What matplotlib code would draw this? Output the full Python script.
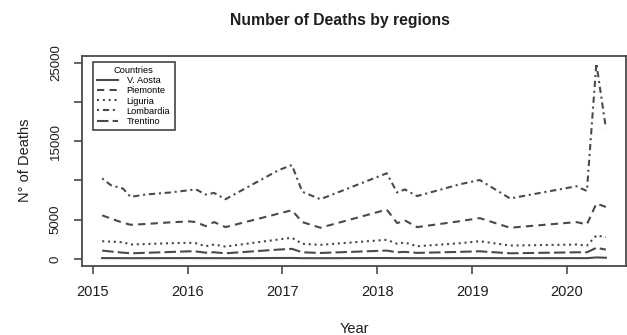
import matplotlib
matplotlib.use("Agg")
import matplotlib.pyplot as plt

plt.rcParams['font.family'] = ['Liberation Sans', 'DejaVu Sans']

# observation times (decimal years)
time = [2015.10, 2015.19, 2015.32, 2015.40, 2015.56, 2015.81, 2016.02, 2016.09,
        2016.19, 2016.28, 2016.40, 2016.96, 2017.10, 2017.21, 2017.40, 2018.10,
        2018.21, 2018.29, 2018.42, 2018.87, 2019.08, 2019.40, 2020.10, 2020.21,
        2020.31, 2020.41]

v_aosta = [110, 105, 100, 95, 100, 105, 110, 108, 100, 102, 95, 120, 125, 100,
           95, 120, 100, 105, 95, 105, 110, 95, 105, 100, 190, 150]
piemonte = [5550, 5150, 4600, 4350, 4450, 4650, 4780, 4690, 4180, 4690, 4050, 5770,
            6200, 4690, 3970, 6280, 4560, 4910, 4050, 4800, 5200, 3970, 4690, 4400,
            7050, 6620]
liguria = [2256, 2200, 2128, 1833, 1900, 2000, 2051, 2000, 1615, 1833, 1577, 2474,
           2692, 1923, 1795, 2436, 1923, 2090, 1615, 2000, 2256, 1705, 1833, 1705,
           2987, 2769]
lombardia = [10250, 9400, 8950, 7900, 8200, 8450, 8750, 8850, 8200, 8400, 7600, 11300,
             11950, 8550, 7600, 10900, 8450, 8850, 8000, 9500, 10050, 7700, 9250, 8650,
             24900, 16650]
trentino = [1064, 950, 800, 718, 780, 880, 974, 950, 800, 850, 718, 1192, 1282, 846,
            760, 1064, 846, 900, 769, 900, 974, 718, 846, 846, 1410, 1192]

regions = ['V. Aosta', 'Piemonte', 'Liguria', 'Lombardia', 'Trentino']
series = [v_aosta, piemonte, liguria, lombardia, trentino]
styles = ['-', (0, (3.5, 2.5)), (0, (1, 1.8)), (0, (1, 1.8, 3, 1.8)), (0, (5.5, 2))]

x_ticks = [2015, 2016, 2017, 2018, 2019, 2020]
y_ticks = [0, 5000, 10000, 15000, 20000, 25000]
y_tick_labels = ['0', '5000', '', '15000', '', '25000']

line_col = '#4a4a4a'
text_col = '#1e1e1e'

fig = plt.figure(figsize=(6.27, 3.35), dpi=100)
ax = fig.add_axes([0.1308, 0.206, 0.8676, 0.6283])

for name, vals, ls in zip(regions, series, styles):
    ax.plot(time, vals, color=line_col, linestyle=ls, linewidth=1.5, label=name)

ax.margins(x=0.04, y=0.04)

ax.set_xticks(x_ticks)
ax.set_yticks(y_ticks)
ax.set_yticklabels(y_tick_labels, rotation=90, va='center')
ax.tick_params(axis='x', labelsize=10.5, length=5.5, width=1.2, color=line_col,
               labelcolor=text_col, pad=8)
ax.tick_params(axis='y', labelsize=9.5, length=5.5, width=1.2, color=line_col,
               labelcolor=text_col, pad=9)
for sp in ax.spines.values():
    sp.set_color(line_col)
    sp.set_linewidth(1.3)

ax.set_xlabel('Year', fontsize=10.5, color=text_col, labelpad=17)
ax.set_ylabel('N° of Deaths', fontsize=10.5, color=text_col, labelpad=13)
fig.text(340 / 627, 1 - 20 / 335, 'Number of Deaths by regions', ha='center',
         va='center', fontsize=11.3, fontweight='bold', color=text_col)

leg = ax.legend(title='Countries', loc='upper left', bbox_to_anchor=(0.0197, 0.9705),
                fontsize=6.7, title_fontsize=6.7, frameon=True, fancybox=False,
                edgecolor='#333333', framealpha=1, borderpad=0.45, labelspacing=0.13,
                handlelength=2.3, handletextpad=0.9, borderaxespad=0)
leg.get_frame().set_linewidth(1.1)

fig.savefig('out.png', dpi=100)
